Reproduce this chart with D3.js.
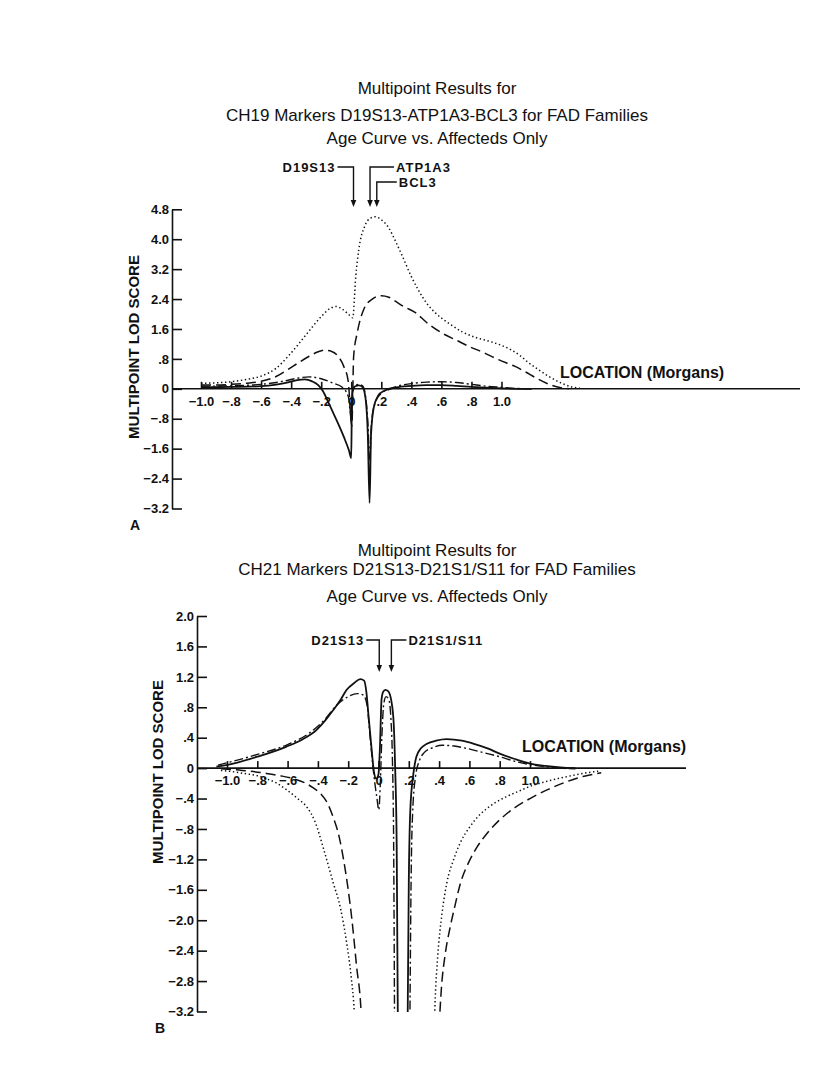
<!DOCTYPE html>
<html lang="en">
<head>
<meta charset="UTF-8">
<title>Multipoint LOD Scores</title>
<script src="https://cdn.jsdelivr.net/npm/d3@7"></script>
<style>
  body { margin: 0; background: #fff; }
  svg { display: block; font-family: "Liberation Sans", Arial, sans-serif; }
  .title { font-size: 17px; fill: #111; text-anchor: middle; }
  .tick text { font-family: "Liberation Sans", Arial, sans-serif; font-size: 13px; font-weight: bold; fill: #111; }
  .tick line, .axis-line { stroke: #111; stroke-width: 1.6; }
  .ylabel { font-size: 15px; font-weight: bold; fill: #111; }
  .xlabel { font-size: 16px; font-weight: bold; fill: #111; }
  .panel-letter { font-size: 14px; font-weight: bold; fill: #111; }
  .marker { font-size: 13px; font-weight: bold; letter-spacing: 1px; fill: #111; }
  .curve { fill: none; stroke: #111; }
</style>
</head>
<body>
<script>
// ---- data ----
const xTicks = [-1.0, -0.8, -0.6, -0.4, -0.2, 0, 0.2, 0.4, 0.6, 0.8, 1.0];
const xTickLabels = ["\u22121.0", "\u2212.8", "\u2212.6", "\u2212.4", "\u2212.2", "0", ".2", ".4", ".6", ".8", "1.0"];

const yTicksA = [4.8, 4.0, 3.2, 2.4, 1.6, 0.8, 0, -0.8, -1.6, -2.4, -3.2];
const yTickLabelsA = ["4.8", "4.0", "3.2", "2.4", "1.6", ".8", "0", "\u2212.8", "\u22121.6", "\u22122.4", "\u22123.2"];
const yTicksB = [2.0, 1.6, 1.2, 0.8, 0.4, 0, -0.4, -0.8, -1.2, -1.6, -2.0, -2.4, -2.8, -3.2];
const yTickLabelsB = ["2.0", "1.6", "1.2", ".8", ".4", "0", "\u2212.4", "\u2212.8", "\u22121.2", "\u22121.6", "\u22122.0", "\u22122.4", "\u22122.8", "\u22123.2"];

const titleA = ["Multipoint Results for", "CH19 Markers D19S13-ATP1A3-BCL3 for FAD Families", "Age Curve vs. Affecteds Only"];
const titleB = ["Multipoint Results for", "CH21 Markers D21S13-D21S1/S11 for FAD Families", "Age Curve vs. Affecteds Only"];

const markerNamesA = ["D19S13", "ATP1A3", "BCL3"];
const markerLocA = [0.015, 0.125, 0.17];
const markerNamesB = ["D21S13", "D21S1/S11"];
const markerLocB = [0.005, 0.085];

// chromosome 19 curves [location, lod]
const dottedA = [[-1.0,0.15],[-0.9,0.16],[-0.8,0.19],[-0.7,0.25],[-0.6,0.34],[-0.5,0.55],[-0.42,0.87],[-0.35,1.2],[-0.28,1.55],[-0.2,1.93],[-0.14,2.15],[-0.1,2.2],[-0.06,2.13],[-0.02,2.0],[0.01,1.9],[0.03,3.0],[0.05,3.72],[0.09,4.35],[0.13,4.57],[0.16,4.6],[0.2,4.52],[0.25,4.3],[0.3,3.9],[0.34,3.55],[0.4,3.0],[0.45,2.62],[0.5,2.3],[0.56,2.03],[0.65,1.75],[0.74,1.52],[0.83,1.37],[0.92,1.27],[1.0,1.16],[1.06,1.05],[1.12,0.9],[1.18,0.7],[1.25,0.5],[1.32,0.32],[1.4,0.15],[1.47,0.05],[1.52,0.02]];
const dashedA = [[-1.0,0.1],[-0.9,0.1],[-0.8,0.12],[-0.7,0.15],[-0.6,0.2],[-0.5,0.33],[-0.42,0.52],[-0.35,0.7],[-0.28,0.87],[-0.22,0.99],[-0.18,1.03],[-0.13,1.0],[-0.09,0.88],[-0.05,0.6],[-0.02,0.2],[0.004,-1.0],[0.016,0.87],[0.04,1.5],[0.083,2.12],[0.14,2.4],[0.2,2.49],[0.25,2.45],[0.29,2.35],[0.35,2.2],[0.43,2.03],[0.5,1.78],[0.6,1.5],[0.7,1.3],[0.78,1.14],[0.88,0.97],[0.98,0.78],[1.04,0.68],[1.09,0.6],[1.16,0.45],[1.23,0.29],[1.3,0.15],[1.36,0.06],[1.45,0.0]];
const dashDotA = [[-1.0,0.07],[-0.8,0.08],[-0.6,0.12],[-0.5,0.17],[-0.42,0.23],[-0.35,0.29],[-0.28,0.32],[-0.2,0.27],[-0.12,0.15],[-0.06,0.04],[-0.02,-0.2],[0.002,-0.85],[0.01,-0.1],[0.025,0.08],[0.05,0.12],[0.075,0.08],[0.095,-0.2],[0.112,-1.0],[0.122,-1.9],[0.135,-0.9],[0.16,-0.35],[0.2,-0.12],[0.25,-0.02],[0.3,0.06],[0.4,0.14],[0.5,0.18],[0.6,0.19],[0.7,0.17],[0.8,0.12],[0.9,0.07],[1.0,0.04],[1.1,0.01],[1.2,0.0]];
const solidA = [[-1.0,0.04],[-0.8,0.05],[-0.6,0.07],[-0.5,0.11],[-0.42,0.17],[-0.36,0.23],[-0.31,0.25],[-0.26,0.2],[-0.22,0.1],[-0.19,-0.05],[-0.15,-0.38],[-0.1,-0.82],[-0.05,-1.28],[-0.015,-1.65],[0.0,-1.85],[0.004,-0.4],[0.008,0.0],[0.025,0.06],[0.05,0.09],[0.075,0.05],[0.095,-0.25],[0.11,-1.2],[0.122,-3.05],[0.132,-1.2],[0.15,-0.5],[0.18,-0.18],[0.22,-0.05],[0.3,0.04],[0.4,0.08],[0.5,0.1],[0.6,0.1],[0.7,0.08],[0.8,0.05],[0.9,0.03],[1.0,0.01],[1.2,0.0]];

// chromosome 21 curves (null = curve runs off the bottom of the plot)
const dottedB = [[-1.04,-0.03],[-0.95,-0.05],[-0.89,-0.07],[-0.8,-0.1],[-0.74,-0.14],[-0.67,-0.2],[-0.61,-0.28],[-0.54,-0.39],[-0.47,-0.52],[-0.42,-0.7],[-0.36,-1.08],[-0.3,-1.5],[-0.25,-1.85],[-0.21,-2.3],[-0.18,-2.75],[-0.16,-3.2],[-0.155,-3.4],null,[0.368,-3.4],[0.375,-3.0],[0.39,-2.5],[0.42,-1.9],[0.45,-1.52],[0.5,-1.18],[0.54,-0.98],[0.6,-0.78],[0.67,-0.61],[0.75,-0.48],[0.85,-0.37],[0.93,-0.3],[1.0,-0.24],[1.1,-0.18],[1.2,-0.13],[1.3,-0.09],[1.38,-0.06],[1.45,-0.04]];
const dashedB = [[-1.04,-0.01],[-0.9,-0.03],[-0.74,-0.07],[-0.65,-0.1],[-0.56,-0.14],[-0.48,-0.2],[-0.43,-0.26],[-0.38,-0.34],[-0.34,-0.45],[-0.3,-0.64],[-0.26,-0.9],[-0.23,-1.21],[-0.2,-1.6],[-0.175,-2.0],[-0.145,-2.6],[-0.115,-3.2],[-0.11,-3.4],null,[0.4,-3.4],[0.415,-2.9],[0.44,-2.45],[0.47,-2.12],[0.5,-1.85],[0.54,-1.52],[0.6,-1.22],[0.65,-1.04],[0.72,-0.85],[0.8,-0.68],[0.9,-0.52],[1.0,-0.4],[1.12,-0.28],[1.24,-0.18],[1.35,-0.11],[1.42,-0.08],[1.47,-0.06]];
const dashDotB = [[-1.06,0.04],[-0.96,0.09],[-0.8,0.18],[-0.6,0.31],[-0.45,0.47],[-0.35,0.65],[-0.28,0.82],[-0.2,0.94],[-0.14,0.98],[-0.1,0.96],[-0.075,0.82],[-0.055,0.4],[-0.03,-0.1],[-0.01,-0.4],[0.002,-0.55],[0.012,-0.2],[0.022,0.4],[0.035,0.85],[0.05,0.94],[0.068,0.9],[0.082,0.65],[0.092,0.1],[0.1,-1.0],[0.106,-3.4],null,[0.207,-3.4],[0.215,-1.5],[0.225,-0.6],[0.245,-0.1],[0.27,0.1],[0.3,0.2],[0.36,0.27],[0.42,0.3],[0.5,0.29],[0.58,0.26],[0.7,0.2],[0.8,0.15],[0.9,0.09],[1.02,0.04],[1.1,0.02],[1.2,0.0],[1.3,-0.01]];
const solidB = [[-1.07,0.02],[-0.96,0.06],[-0.8,0.15],[-0.61,0.28],[-0.5,0.38],[-0.41,0.5],[-0.35,0.63],[-0.3,0.76],[-0.25,0.9],[-0.21,1.03],[-0.16,1.12],[-0.12,1.17],[-0.095,1.15],[-0.08,1.0],[-0.065,0.67],[-0.045,0.24],[-0.03,-0.05],[-0.015,-0.14],[0.0,-0.08],[0.01,0.3],[0.02,0.9],[0.03,1.0],[0.045,1.03],[0.065,1.01],[0.085,0.88],[0.1,0.6],[0.11,0.0],[0.12,-1.0],[0.128,-3.4],null,[0.192,-3.4],[0.2,-1.5],[0.21,-0.55],[0.23,-0.08],[0.25,0.15],[0.28,0.26],[0.32,0.32],[0.38,0.36],[0.45,0.38],[0.55,0.36],[0.63,0.32],[0.72,0.26],[0.8,0.19],[0.9,0.12],[1.0,0.06],[1.1,0.03],[1.2,0.01],[1.3,0.0]];

// ---- line styles ----
const styles = {
  dotted:  { dash: "1.4 2.6", width: 1.5 },
  dashed:  { dash: "10 5", width: 1.5 },
  dashdot: { dash: "9 3 2 3", width: 1.4 },
  solid:   { dash: null, width: 1.8 }
};

// ---- panel layout ----
const panels = [
  {
    letter: "A", titles: titleA, titleY: [88, 115.5, 138.5],
    xRange: [201, 501.5], yDomain: [-3.2, 4.8], yRange: [508.5, 209.3],
    axisX: 172, axisEnd: 800, yTicks: yTicksA, yLabels: yTickLabelsA,
    ylabelXY: [134, 347], letterXY: [130, 530], locXY: [560, 372],
    curves: [["dotted", dottedA], ["dashed", dashedA], ["dashdot", dashDotA], ["solid", solidA]],
    markerNames: markerNamesA, markerLoc: markerLocA,
    markerLayout: [{ row: 167, side: "left", len: 16 }, { row: 167, side: "right", len: 24 }, { row: 182, side: "right", len: 20 }],
    arrowTip: 207
  },
  {
    letter: "B", titles: titleB, titleY: [550, 569.5, 596],
    xRange: [227, 530], yDomain: [-3.2, 2.0], yRange: [1011.5, 616],
    axisX: 197, axisEnd: 686, yTicks: yTicksB, yLabels: yTickLabelsB,
    ylabelXY: [158, 772], letterXY: [155, 1033], locXY: [522, 746],
    curves: [["dotted", dottedB], ["dashed", dashedB], ["dashdot", dashDotB], ["solid", solidB]],
    markerNames: markerNamesB, markerLoc: markerLocB,
    markerLayout: [{ row: 640, side: "left", len: 13 }, { row: 640, side: "right", len: 15 }],
    arrowTip: 672
  }
];

const svg = d3.select("body").append("svg")
  .attr("width", 816)
  .attr("height", 1081);

panels.forEach((p, pi) => {
  const g = svg.append("g");
  const x = d3.scaleLinear().domain([-1, 1]).range(p.xRange);
  const y = d3.scaleLinear().domain(p.yDomain).range(p.yRange);

  // titles
  g.selectAll(".title").data(p.titles).enter().append("text")
    .attr("class", "title")
    .attr("x", 437)
    .attr("y", (d, i) => p.titleY[i])
    .attr("dy", "0.35em")
    .text(d => d);

  // y axis, ticks pointing inward
  const yAxis = d3.axisLeft(y)
    .tickValues(p.yTicks)
    .tickFormat((d, i) => p.yLabels[i])
    .tickSizeInner(-10)
    .tickSizeOuter(0)
    .tickPadding(3);
  const yg = g.append("g").attr("transform", `translate(${p.axisX},0)`).call(yAxis);
  yg.select(".domain").attr("class", "axis-line").attr("fill", "none");

  // x axis at zero
  const xAxis = d3.axisBottom(x)
    .tickValues(xTicks)
    .tickFormat((d, i) => xTickLabels[i])
    .tickSizeInner(-7)
    .tickSizeOuter(0)
    .tickPadding(8);
  const xg = g.append("g").attr("transform", `translate(0,${y(0)})`).call(xAxis);
  xg.select(".domain").remove();
  g.append("line")
    .attr("class", "axis-line")
    .attr("x1", p.axisX).attr("x2", p.axisEnd)
    .attr("y1", y(0)).attr("y2", y(0));

  // axis labels
  g.append("text")
    .attr("class", "ylabel")
    .attr("transform", `translate(${p.ylabelXY[0]},${p.ylabelXY[1]}) rotate(-90)`)
    .attr("text-anchor", "middle")
    .attr("dy", "0.35em")
    .text("MULTIPOINT LOD SCORE");
  g.append("text")
    .attr("class", "xlabel")
    .attr("x", p.locXY[0]).attr("y", p.locXY[1])
    .attr("dy", "0.35em")
    .text("LOCATION (Morgans)");
  g.append("text")
    .attr("class", "panel-letter")
    .attr("x", p.letterXY[0]).attr("y", p.letterXY[1])
    .text(p.letter);

  // curves, clipped at the bottom of the scale
  const clipId = "clip" + pi;
  svg.append("clipPath").attr("id", clipId)
    .append("rect")
    .attr("x", p.axisX).attr("y", 0)
    .attr("width", p.axisEnd - p.axisX)
    .attr("height", y(p.yDomain[0]) + 0.5);

  const line = d3.line()
    .defined(d => d !== null)
    .x(d => x(d[0]))
    .y(d => y(d[1]))
    .curve(d3.curveMonotoneX);

  g.append("g").attr("clip-path", `url(#${clipId})`)
    .selectAll("path").data(p.curves).enter().append("path")
    .attr("class", "curve")
    .attr("d", d => line(d[1]))
    .attr("stroke-width", d => styles[d[0]].width)
    .attr("stroke-dasharray", d => styles[d[0]].dash);

  // marker arrows
  p.markerNames.forEach((name, i) => {
    const lay = p.markerLayout[i];
    const mx = x(p.markerLoc[i]);
    const ex = lay.side === "left" ? mx - lay.len : mx + lay.len;
    g.append("path")
      .attr("fill", "none").attr("stroke", "#111").attr("stroke-width", 1.4)
      .attr("d", `M${ex},${lay.row}H${mx}V${p.arrowTip - 5}`);
    g.append("path")
      .attr("fill", "#111")
      .attr("d", `M${mx - 2.8},${p.arrowTip - 7}L${mx + 2.8},${p.arrowTip - 7}L${mx},${p.arrowTip}Z`);
    g.append("text")
      .attr("class", "marker")
      .attr("x", lay.side === "left" ? ex - 2 : ex + 2)
      .attr("y", lay.row)
      .attr("dy", "0.35em")
      .attr("text-anchor", lay.side === "left" ? "end" : "start")
      .text(name);
  });
});
</script>
</body>
</html>
